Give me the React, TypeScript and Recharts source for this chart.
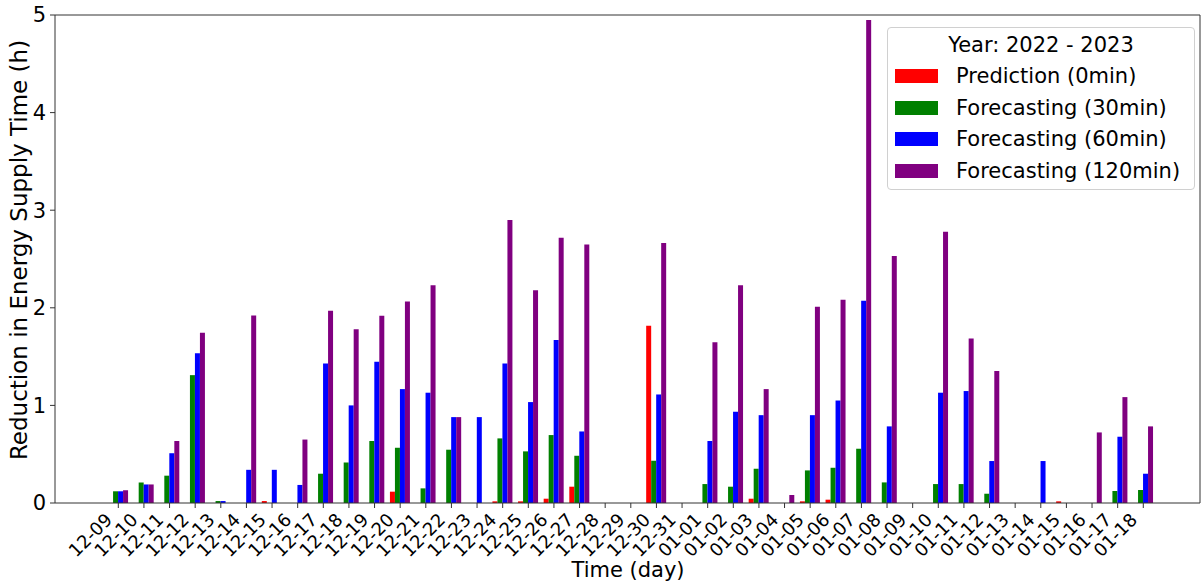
import React from 'react';
import { BarChart, Bar, XAxis, YAxis, Legend, Label } from 'recharts';

// Daily reduction in energy supply time (hours), Dec 2022 - Jan 2023
const days = [
  '12-09', '12-10', '12-11', '12-12', '12-13', '12-14', '12-15', '12-16', '12-17', '12-18',
  '12-19', '12-20', '12-21', '12-22', '12-23', '12-24', '12-25', '12-26', '12-27', '12-28',
  '12-29', '12-30', '12-31', '01-01', '01-02', '01-03', '01-04', '01-05', '01-06', '01-07',
  '01-08', '01-09', '01-10', '01-11', '01-12', '01-13', '01-14', '01-15', '01-16', '01-17',
  '01-18',
];

const prediction0 = [
  0, 0, 0, 0, 0, 0, 0.02, 0, 0, 0,
  0, 0.116, 0, 0, 0, 0.017, 0.017, 0.044, 0.167, 0,
  0, 1.815, 0, 0, 0, 0.044, 0, 0.017, 0.034, 0,
  0, 0, 0, 0, 0, 0, 0, 0.017, 0, 0,
  0,
];

const forecast30 = [
  0.12, 0.21, 0.28, 1.31, 0.02, 0, 0, 0, 0.3, 0.415,
  0.635, 0.566, 0.15, 0.546, 0, 0.662, 0.529, 0.696, 0.484, 0,
  0, 0.433, 0, 0.194, 0.167, 0.351, 0, 0.334, 0.361, 0.556,
  0.211, 0, 0.194, 0.194, 0.095, 0, 0, 0, 0, 0.123,
  0.133,
];

const forecast60 = [
  0.12, 0.19, 0.51, 1.535, 0.02, 0.34, 0.34, 0.185, 1.43, 1.0,
  1.447, 1.167, 1.13, 0.88, 0.88, 1.43, 1.034, 1.669, 0.733, 0,
  0, 1.112, 0, 0.635, 0.935, 0.9, 0, 0.9, 1.05, 2.072,
  0.785, 0, 1.13, 1.147, 0.43, 0, 0.43, 0, 0, 0.679,
  0.3,
];

const forecast120 = [
  0.13, 0.19, 0.635, 1.745, 0, 1.92, 0, 0.65, 1.97, 1.78,
  1.918, 2.064, 2.232, 0.88, 0, 2.9, 2.18, 2.717, 2.648, 0,
  0, 2.665, 0, 1.648, 2.232, 1.167, 0.082, 2.01, 2.082, 4.95,
  2.532, 0, 2.78, 1.686, 1.352, 0, 0, 0, 0.723, 1.085,
  0.785,
];

const seriesNames = [
  'Prediction (0min)',
  'Forecasting (30min)',
  'Forecasting (60min)',
  'Forecasting (120min)',
];

const yTicks = [0, 1, 2, 3, 4, 5];

const data = days.map((day, i) => ({
  day,
  p0: prediction0[i],
  f30: forecast30[i],
  f60: forecast60[i],
  f120: forecast120[i],
}));

const FONT = "'DejaVu Sans', sans-serif";
const AXIS = '#333';

const DayTick = ({ x, y, payload }: any) => (
  <text
    x={0}
    y={0}
    transform={`translate(${x - 5},${y + 11}) rotate(-45)`}
    textAnchor="end"
    fontSize={18}
    fontFamily={FONT}
    fill="#000"
  >
    {payload.value}
  </text>
);

// keep legend rows in plotting order (recharts sorts by name otherwise)
const LegendBox = ({ payload }: any) => {
  const rows = [...(payload || [])].sort(
    (a: any, b: any) => seriesNames.indexOf(a.value) - seriesNames.indexOf(b.value),
  );
  return (
    <div
      style={{
        boxSizing: 'border-box',
        width: 308,
        height: 163,
        border: '1px solid #d0d0d0',
        borderRadius: 4,
        background: 'rgba(255,255,255,0.8)',
        fontFamily: FONT,
        fontSize: 21,
        color: '#000',
        paddingTop: 1.5,
      }}
    >
      <div style={{ height: 31, lineHeight: '31px', textAlign: 'center' }}>Year: 2022 - 2023</div>
      {rows.map((entry: any) => (
        <div key={entry.value} style={{ display: 'flex', alignItems: 'center', height: 31.5 }}>
          <span
            style={{
              display: 'inline-block',
              width: 43,
              height: 14,
              marginLeft: 7,
              marginRight: 18,
              background: entry.color,
            }}
          />
          <span>{entry.value}</span>
        </div>
      ))}
    </div>
  );
};

export default function App() {
  return (
    <div style={{ position: 'absolute', left: 0, top: 0, background: '#fff' }}>
      <BarChart
        width={1203}
        height={586}
        data={data}
        margin={{ top: 14, right: 2, bottom: 0, left: 0 }}
        barCategoryGap="10%"
        barGap={0}
      >
        <XAxis
          dataKey="day"
          height={83}
          interval={0}
          padding={{ left: 50.5, right: 43.9 }}
          tick={<DayTick />}
          tickSize={5}
          tickMargin={2}
          stroke={AXIS}
        >
          <Label
            content={() => (
              <text x={628} y={570} textAnchor="middle" dominantBaseline="central" fontSize={21} fontFamily={FONT} fill="#000">
                Time (day)
              </text>
            )}
          />
        </XAxis>
        <XAxis
          xAxisId="top"
          orientation="top"
          dataKey="day"
          height={1}
          tick={false}
          tickLine={false}
          stroke={AXIS}
        />
        <YAxis
          domain={[0, 5]}
          ticks={yTicks}
          width={55}
          tickSize={5}
          tickMargin={4}
          stroke={AXIS}
          tick={{ fill: '#000', fontSize: 21, fontFamily: FONT }}
        >
          <Label
            content={() => (
              <text
                x={19}
                y={250}
                transform="rotate(-90 19 250)"
                textAnchor="middle"
                dominantBaseline="central"
                fontSize={23}
                fontFamily={FONT}
                fill="#000"
              >
                Reduction in Energy Supply Time (h)
              </text>
            )}
          />
        </YAxis>
        <YAxis
          yAxisId="right"
          orientation="right"
          domain={[0, 5]}
          width={1}
          tick={false}
          tickLine={false}
          stroke={AXIS}
        />
        <Legend
          layout="horizontal"
          verticalAlign="middle"
          align="center"
          content={<LegendBox />}
          wrapperStyle={{ left: 887, top: 27, width: 308, height: 163 }}
        />
        <Bar dataKey="p0" name={seriesNames[0]} fill="#ff0000" isAnimationActive={false} />
        <Bar dataKey="f30" name={seriesNames[1]} fill="#008000" isAnimationActive={false} />
        <Bar dataKey="f60" name={seriesNames[2]} fill="#0000ff" isAnimationActive={false} />
        <Bar dataKey="f120" name={seriesNames[3]} fill="#800080" isAnimationActive={false} />
      </BarChart>
    </div>
  );
}
